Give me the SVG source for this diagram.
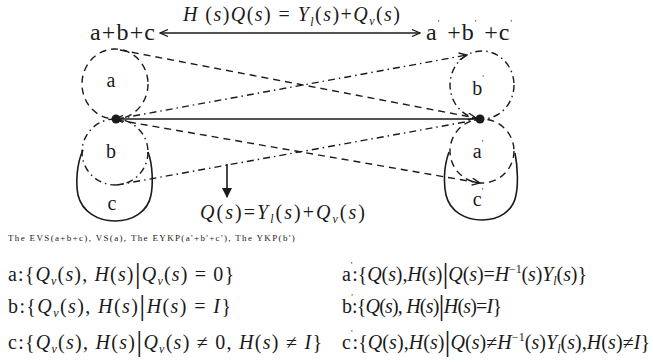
<svg xmlns="http://www.w3.org/2000/svg" width="653" height="364" viewBox="0 0 653 364">
<style>
.t{font-family:"Liberation Serif","Times New Roman",serif;fill:#1a1a1a}
.i{font-style:italic}
.sub{font-size:12px}
.lbl{font-size:20px}
.m{font-size:20px}
.dash{fill:none;stroke:#1a1a1a;stroke-width:1.4;stroke-dasharray:7 5}
.dd{fill:none;stroke:#1a1a1a;stroke-width:1.4;stroke-dasharray:7 4 1.5 4}
.solid{fill:none;stroke:#1a1a1a;stroke-width:1.6}
</style>
<defs>
<marker id="oa" viewBox="0 0 10 8" refX="9" refY="4" markerWidth="10" markerHeight="8" markerUnits="userSpaceOnUse" orient="auto-start-reverse">
<path d="M1,0.5 L9,4 L1,7.5" fill="none" stroke="#1a1a1a" stroke-width="1.3"/>
</marker>
<marker id="fa" viewBox="0 0 10 10" refX="5" refY="9" markerWidth="10" markerHeight="10" markerUnits="userSpaceOnUse" orient="0">
<path d="M0,0 L10,0 L5,10 Z" fill="#1a1a1a"/>
</marker>
</defs>

<g id="header">
<text class="t" x="90" y="40" font-size="24" textLength="65" lengthAdjust="spacing">a+b+c</text>
<text class="t" x="426" y="40" font-size="24" textLength="86" lengthAdjust="spacing">a<tspan font-size="9" dy="-14">'</tspan><tspan dy="14"> +b</tspan><tspan font-size="9" dy="-14">'</tspan><tspan dy="14"> +c</tspan><tspan font-size="9" dy="-14">'</tspan></text>
<text class="t m" x="183" y="21" textLength="217" lengthAdjust="spacing"><tspan class="i">H</tspan> (<tspan class="i">s</tspan>)<tspan class="i">Q</tspan>(<tspan class="i">s</tspan>) = <tspan class="i">Y</tspan><tspan class="sub i" dy="5">l</tspan><tspan dy="-5">(</tspan><tspan class="i">s</tspan>)+<tspan class="i">Q</tspan><tspan class="sub i" dy="4">v</tspan><tspan dy="-4">(</tspan><tspan class="i">s</tspan>)</text>
</g>

<g id="node-a">
<ellipse class="dash" cx="115" cy="84" rx="33" ry="35"/>
<text class="t lbl" x="111" y="87" text-anchor="middle">a</text>
</g>
<g id="node-b">
<ellipse class="dd" cx="115" cy="152" rx="33" ry="33"/>
<text class="t lbl" x="111" y="158" text-anchor="middle">b</text>
</g>
<g id="node-c">
<path class="solid" d="M83,150 C76,165 76,185 78,195 C82,212 98,221 115,221 C132,221 148,212 151,195 C153,185 153,165 148,152"/>
<text class="t lbl" x="112" y="210" text-anchor="middle">c</text>
</g>
<g id="node-b2">
<ellipse class="dd" cx="482" cy="85" rx="32" ry="34"/>
<text class="t lbl" x="478" y="95" text-anchor="middle">b<tspan font-size="9" dy="-14">'</tspan></text>
</g>
<g id="node-a2">
<ellipse class="dash" cx="482" cy="151" rx="32" ry="32"/>
<text class="t lbl" x="478" y="158" text-anchor="middle">a<tspan font-size="9" dy="-12">'</tspan></text>
</g>
<g id="node-c2">
<path class="solid" d="M449,152 C443,168 444,186 446,195 C450,212 466,220 482,220 C498,220 513,212 516,195 C518,186 518,168 515,153"/>
<text class="t lbl" x="478" y="206" text-anchor="middle">c<tspan font-size="9" dy="-12">'</tspan></text>
</g>

<g id="connectors">
<line class="solid" x1="160" y1="33" x2="420" y2="33" marker-start="url(#oa)" marker-end="url(#oa)"/>
<line class="solid" x1="115" y1="119" x2="479" y2="119" marker-start="url(#oa)"/>
<line class="dash" x1="120" y1="50" x2="476" y2="118" marker-end="url(#oa)"/>
<line class="dd" x1="117" y1="119" x2="467" y2="55" marker-end="url(#oa)"/>
<line class="dash" x1="117" y1="120" x2="480" y2="183" marker-end="url(#oa)"/>
<line class="dd" x1="117" y1="185" x2="476" y2="120"/>
<line class="solid" x1="227" y1="164" x2="227" y2="197" marker-end="url(#fa)"/>
<circle cx="116" cy="119" r="4.5" fill="#1a1a1a"/>
<circle cx="480" cy="119" r="4.5" fill="#1a1a1a"/>
</g>

<g id="formulas">
<text class="t m" x="200" y="219" textLength="165" lengthAdjust="spacing"><tspan class="i">Q</tspan>(<tspan class="i">s</tspan>)=<tspan class="i">Y</tspan><tspan class="sub i" dy="4">l</tspan><tspan dy="-4">(</tspan><tspan class="i">s</tspan>)+<tspan class="i">Q</tspan><tspan class="sub i" dy="4">v</tspan><tspan dy="-4">(</tspan><tspan class="i">s</tspan>)</text>
<text class="t" x="8" y="241" font-size="9" letter-spacing="1.3" textLength="288" lengthAdjust="spacing">The EVS(a+b+c), VS(a), The EYKP(a'+b'+c'), The YKP(b')</text>

<text class="t m" x="8" y="281" textLength="226" lengthAdjust="spacing">a:{<tspan class="i">Q</tspan><tspan class="sub i" dy="4">v</tspan><tspan dy="-4">(</tspan><tspan class="i">s</tspan>), <tspan class="i">H</tspan>(<tspan class="i">s</tspan>)<tspan font-size="30" dy="2">|</tspan><tspan class="i" dy="-2">Q</tspan><tspan class="sub i" dy="4">v</tspan><tspan dy="-4">(</tspan><tspan class="i">s</tspan>) = 0}</text>
<text class="t m" x="8" y="313" textLength="223" lengthAdjust="spacing">b:{<tspan class="i">Q</tspan><tspan class="sub i" dy="4">v</tspan><tspan dy="-4">(</tspan><tspan class="i">s</tspan>), <tspan class="i">H</tspan>(<tspan class="i">s</tspan>)<tspan font-size="30" dy="2">|</tspan><tspan class="i" dy="-2">H</tspan>(<tspan class="i">s</tspan>) = <tspan class="i">I</tspan>}</text>
<text class="t m" x="8" y="349" textLength="314" lengthAdjust="spacing">c:{<tspan class="i">Q</tspan><tspan class="sub i" dy="4">v</tspan><tspan dy="-4">(</tspan><tspan class="i">s</tspan>), <tspan class="i">H</tspan>(<tspan class="i">s</tspan>)<tspan font-size="30" dy="2">|</tspan><tspan class="i" dy="-2">Q</tspan><tspan class="sub i" dy="4">v</tspan><tspan dy="-4">(</tspan><tspan class="i">s</tspan>) ≠ 0, <tspan class="i">H</tspan>(<tspan class="i">s</tspan>) ≠ <tspan class="i">I</tspan>}</text>

<text class="t m" x="342" y="281" textLength="245" lengthAdjust="spacing">a<tspan font-size="9" dy="-13">'</tspan><tspan dy="13">:{</tspan><tspan class="i">Q</tspan>(<tspan class="i">s</tspan>),<tspan class="i">H</tspan>(<tspan class="i">s</tspan>)<tspan font-size="30" dy="2">|</tspan><tspan class="i" dy="-2">Q</tspan>(<tspan class="i">s</tspan>)=<tspan class="i">H</tspan><tspan font-size="12" dy="-8">−1</tspan><tspan dy="8">(</tspan><tspan class="i">s</tspan>)<tspan class="i">Y</tspan><tspan class="sub i" dy="4">l</tspan><tspan dy="-4">(</tspan><tspan class="i">s</tspan>)}</text>
<text class="t m" x="342" y="313" textLength="160" lengthAdjust="spacing">b<tspan font-size="9" dy="-13">'</tspan><tspan dy="13">:{</tspan><tspan class="i">Q</tspan>(<tspan class="i">s</tspan>), <tspan class="i">H</tspan>(<tspan class="i">s</tspan>)<tspan font-size="30" dy="2">|</tspan><tspan class="i" dy="-2">H</tspan>(<tspan class="i">s</tspan>)=<tspan class="i">I</tspan>}</text>
<text class="t m" x="342" y="349" textLength="308" lengthAdjust="spacing">c<tspan font-size="9" dy="-13">'</tspan><tspan dy="13">:{</tspan><tspan class="i">Q</tspan>(<tspan class="i">s</tspan>),<tspan class="i">H</tspan>(<tspan class="i">s</tspan>)<tspan font-size="30" dy="2">|</tspan><tspan class="i" dy="-2">Q</tspan>(<tspan class="i">s</tspan>)≠<tspan class="i">H</tspan><tspan font-size="12" dy="-8">−1</tspan><tspan dy="8">(</tspan><tspan class="i">s</tspan>)<tspan class="i">Y</tspan><tspan class="sub i" dy="4">l</tspan><tspan dy="-4">(</tspan><tspan class="i">s</tspan>),<tspan class="i">H</tspan>(<tspan class="i">s</tspan>)≠<tspan class="i">I</tspan>}</text>
</g>
</svg>
